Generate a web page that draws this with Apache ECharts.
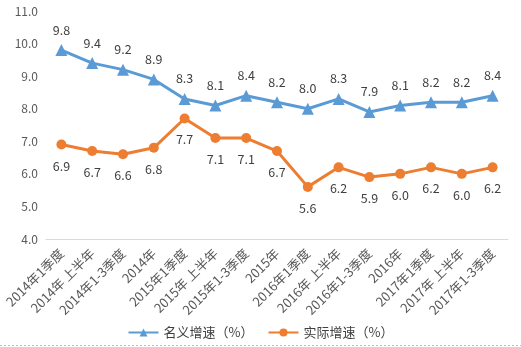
<!DOCTYPE html>
<html><head><meta charset="utf-8">
<script src="https://cdn.jsdelivr.net/npm/echarts@6/dist/echarts.min.js"></script>
<style>html,body{margin:0;padding:0;background:#fff}#c{width:521px;height:347px}</style>
</head><body><div id="c"></div>
<script>
var categories = ['2014年1季度','2014年 上半年','2014年1-3季度','2014年','2015年1季度','2015年 上半年','2015年1-3季度','2015年','2016年1季度','2016年 上半年','2016年1-3季度','2016年','2017年1季度','2017年 上半年','2017年1-3季度'];
var nominal = [9.8, 9.4, 9.2, 8.9, 8.3, 8.1, 8.4, 8.2, 8.0, 8.3, 7.9, 8.1, 8.2, 8.2, 8.4];
var real = [6.9, 6.7, 6.6, 6.8, 7.7, 7.1, 7.1, 6.7, 5.6, 6.2, 5.9, 6.0, 6.2, 6.0, 6.2];
var seriesNames = ['名义增速（%）', '实际增速（%）'];
var font = '"Noto Sans CJK SC", "Open Sans", sans-serif';
var chart = echarts.init(document.getElementById('c'));
chart.setOption({
  animation: false,
  textStyle: {fontFamily: font},
  grid: {left: 46, right: 13, top: 11, bottom: 108},
  legend: {
    bottom: 3, left: 'center', itemWidth: 30, itemHeight: 10, itemGap: 14,
    textStyle: {fontSize: 13, color: '#404040', fontFamily: font},
    data: seriesNames
  },
  graphic: [{type: 'line', shape: {x1: 0, y1: 345.5, x2: 521, y2: 345.5}, style: {stroke: '#bfbfbf', lineDash: [2, 2], lineWidth: 1}}],
  xAxis: {
    type: 'category', data: categories, boundaryGap: true,
    axisLine: {lineStyle: {color: '#d9d9d9'}},
    axisTick: {show: false},
    axisLabel: {rotate: 45, interval: 0, fontSize: 13, color: '#595959', margin: 12, fontFamily: font}
  },
  yAxis: {
    type: 'value', min: 4, max: 11, interval: 1,
    axisLine: {show: false}, axisTick: {show: false},
    splitLine: {show: false},
    axisLabel: {formatter: function(v){return v.toFixed(1);}, fontSize: 12, color: '#595959', margin: 8, fontFamily: font}
  },
  series: [
    {name: seriesNames[0], type: 'line', data: nominal, symbol: 'triangle', symbolSize: 12,
     lineStyle: {color: '#5B9BD5', width: 3}, itemStyle: {color: '#5B9BD5'},
     label: {show: true, position: 'top', distance: 8, fontSize: 12.5, color: '#404040', formatter: function(p){return p.value.toFixed(1);}}},
    {name: seriesNames[1], type: 'line', data: real, symbol: 'circle', symbolSize: 10,
     lineStyle: {color: '#ED7D31', width: 3}, itemStyle: {color: '#ED7D31'},
     label: {show: true, position: 'bottom', distance: 10, fontSize: 12.5, color: '#404040', formatter: function(p){return p.value.toFixed(1);}}}
  ]
});
</script></body></html>
